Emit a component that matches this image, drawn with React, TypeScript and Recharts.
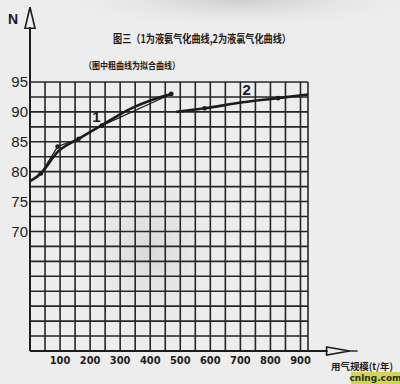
import { ComposedChart, Line, Scatter, XAxis, YAxis, CartesianGrid, ReferenceLine, ReferenceDot } from 'recharts';

// curve 1: fitted (thick) line and the measured polyline (thin)
const fitX = [0, 36, 92, 162, 239, 337, 405, 470];
const fitN = [78.4, 79.7, 83.3, 85.5, 87.8, 90.6, 92.0, 93.0];
const measX = [0, 36, 92, 162, 239, 470];
const measN = [78.4, 79.7, 84.2, 85.5, 87.7, 93.0];
const markX1 = [36, 92, 162, 239, 470];
const markN1 = [79.7, 84.2, 85.5, 87.7, 93.0];

// curve 2
const c2X = [487, 581, 708, 825, 925];
const c2N = [90.0, 90.6, 91.6, 92.3, 92.9];
const markX2 = [581, 825];
const markN2 = [90.6, 92.3];

const xTicks = [0, 50, 100, 150, 200, 250, 300, 350, 400, 450, 500, 550, 600, 650, 700, 750, 800, 850, 900];
const xLabels = [100, 200, 300, 400, 500, 600, 700, 800, 900];
const yTicks = [50, 52.5, 55, 57.5, 60, 62.5, 65, 67.5, 70, 72.5, 75, 77.5, 80, 82.5, 85, 87.5, 90, 92.5, 95];
const yLabels = [70, 75, 80, 85, 90, 95];

const title = '图三（1为液氨气化曲线,2为液氯气化曲线）';
const subtitle = '（图中粗曲线为拟合曲线）';
const xName = '用气规模(t/年)';

const rows = (xs: number[], ys: number[]) => xs.map((x, i) => ({ x, n: ys[i] }));

const INK = '#1c1c1c';
const CJK = "'Noto Sans CJK SC', sans-serif";

const yArrow = (p: any) => {
  const { x1, y1, x2, y2 } = p;
  return (
    <g>
      <line x1={x1} y1={y1} x2={x2} y2={y2 + 20} stroke={INK} strokeWidth={2} />
      <polygon points={`${x2},${y2} ${x2 - 5},${y2 + 21} ${x2 + 5},${y2 + 21}`} fill="none" stroke={INK} strokeWidth={1.6} />
    </g>
  );
};

const xArrow = (p: any) => {
  const { x1, y1, x2, y2 } = p;
  return (
    <g>
      <line x1={x1} y1={y1} x2={x2 - 30} y2={y2} stroke={INK} strokeWidth={2} />
      <polygon points={`${x2 - 31},${y2 - 4} ${x2 - 8},${y2} ${x2 - 31},${y2 + 4}`} fill="none" stroke={INK} strokeWidth={1.6} />
      <line x1={x2 - 10} y1={y2} x2={x2} y2={y2} stroke={INK} strokeWidth={1.4} />
    </g>
  );
};

const dotShape = (p: any) => <circle cx={p.cx} cy={p.cy} r={2.4} fill={INK} />;

const tag = (txt: string) => (p: any) => (
  <text x={p.cx} y={p.cy} textAnchor="middle" dominantBaseline="central" fontSize={15} fontWeight="bold" fontFamily="'Liberation Sans', Arial, sans-serif" fill={INK}>
    {txt}
  </text>
);

export default function App() {
  return (
    <div style={{ position: 'absolute', left: 0, top: 0, width: 400, height: 384, background: '#ededed', overflow: 'hidden' }}>
      <svg width={400} height={384} style={{ position: 'absolute', left: 0, top: 0 }}>
        <defs>
          <radialGradient id="smudge" cx="0.6" cy="0" r="0.5">
            <stop offset="0%" stopColor="#b8b8b8" stopOpacity={0.6} />
            <stop offset="100%" stopColor="#ededed" stopOpacity={0} />
          </radialGradient>
          <radialGradient id="smudge2" cx="0.5" cy="0.5" r="0.5">
            <stop offset="0%" stopColor="#cfcfcf" stopOpacity={0.7} />
            <stop offset="100%" stopColor="#ededed" stopOpacity={0} />
          </radialGradient>
        </defs>
        <rect x={0} y={0} width={400} height={60} fill="url(#smudge)" />
        <ellipse cx={150} cy={250} rx={90} ry={110} fill="url(#smudge2)" />
      </svg>
      <ComposedChart width={400} height={384} margin={{ top: 82, right: 92, bottom: 0, left: 0 }} style={{ position: 'absolute', left: 0, top: 0 }}>
        <CartesianGrid stroke="#262626" strokeWidth={1.6} />
        <XAxis
          dataKey="x"
          type="number"
          domain={[0, 925]}
          ticks={xTicks}
          interval={0}
          allowDataOverflow
          height={33}
          tickLine={false}
          tickSize={0}
          tickMargin={5}
          axisLine={{ stroke: INK, strokeWidth: 2 }}
          tickFormatter={(v: number) => (xLabels.includes(v) ? String(v) : '')}
          tick={{ fontSize: 11, fontWeight: 'bold', fill: INK, fontFamily: "'Liberation Sans Narrow', 'DejaVu Sans Condensed', sans-serif" }}
        />
        <YAxis
          dataKey="n"
          type="number"
          domain={[50, 95]}
          ticks={yTicks}
          interval={0}
          allowDataOverflow
          width={30}
          tickLine={false}
          tickSize={0}
          tickMargin={2}
          axisLine={{ stroke: INK, strokeWidth: 2 }}
          tickFormatter={(v: number) => (yLabels.includes(v) ? String(v) : '')}
          tick={{ fontSize: 15, fill: INK, fontFamily: "'Liberation Sans', Arial, sans-serif" }}
        />
        <ReferenceLine segment={[{ x: 0, y: 95 }, { x: 0, y: 107.5 }]} ifOverflow="visible" shape={yArrow} />
        <ReferenceLine segment={[{ x: 925, y: 50 }, { x: 1090, y: 50 }]} ifOverflow="visible" shape={xArrow} />
        <Line data={rows(measX, measN)} dataKey="n" type="linear" stroke={INK} strokeWidth={1.2} dot={false} isAnimationActive={false} />
        <Line data={rows(fitX, fitN)} dataKey="n" type="monotone" stroke={INK} strokeWidth={2.6} dot={false} isAnimationActive={false} />
        <Line data={rows(c2X, c2N)} dataKey="n" type="monotone" stroke={INK} strokeWidth={2.6} dot={false} isAnimationActive={false} />
        <Scatter data={rows(markX1, markN1)} dataKey="n" fill={INK} shape={dotShape} isAnimationActive={false} />
        <Scatter data={rows(markX2, markN2)} dataKey="n" fill={INK} shape={dotShape} isAnimationActive={false} />
        <ReferenceDot x={221} y={89.2} r={0} shape={tag('1')} />
        <ReferenceDot x={721} y={93.8} r={0} shape={tag('2')} />
      </ComposedChart>
      <svg width={400} height={384} style={{ position: 'absolute', left: 0, top: 0, pointerEvents: 'none' }}>
        <text x={13} y={19} textAnchor="middle" dominantBaseline="central" fontSize={14} fontWeight="bold" fontFamily="'Liberation Sans', Arial, sans-serif" fill={INK}>N</text>
        <text x={113} y={38} dominantBaseline="central" fontSize={11} fontWeight="bold" fontFamily={CJK} fill={INK} textLength={178} lengthAdjust="spacingAndGlyphs">{title}</text>
        <text x={84} y={65} dominantBaseline="central" fontSize={9.5} fontWeight="bold" fontFamily={CJK} fill={INK} textLength={96} lengthAdjust="spacingAndGlyphs">{subtitle}</text>
        <text x={331} y={366} dominantBaseline="central" fontSize={9.5} fontWeight="bold" fontFamily={CJK} fill={INK} textLength={62} lengthAdjust="spacingAndGlyphs">{xName}</text>
        <rect x={351} y={372} width={49} height={12} fill="#d0d35c" />
        <text x={375.5} y={381} textAnchor="middle" fontSize={9} fontWeight="bold" fontFamily="'DejaVu Sans', sans-serif" fill="#2c3010">cnlng.com</text>
      </svg>
    </div>
  );
}
